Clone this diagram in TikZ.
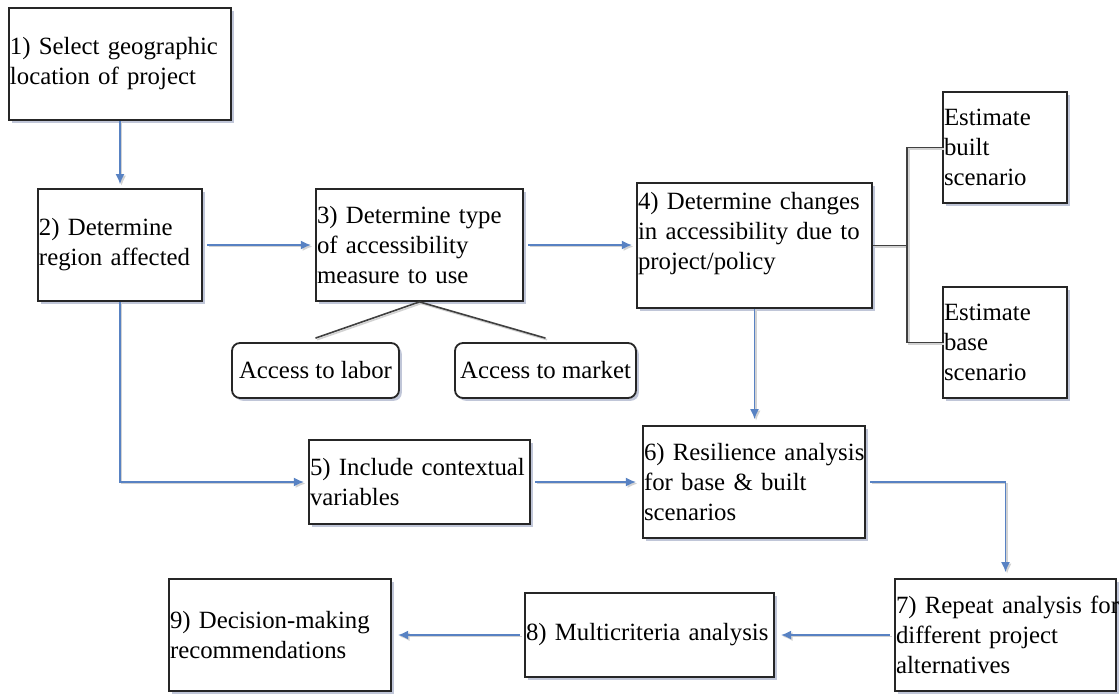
\documentclass[tikz,border=0pt]{standalone}
\usepackage{fontspec}
\setmainfont{Liberation Serif}
\usetikzlibrary{shadows,arrows.meta}
\definecolor{flowblue}{RGB}{88,130,195}
\definecolor{shadowgray}{RGB}{150,160,190}
\newcommand\boxfont{\fontsize{12.4}{15}\selectfont}
\tikzset{
  stepbox/.style={draw=black!85, line width=0.9pt, fill=white, align=left,
    inner xsep=0.6pt, inner ysep=0pt, font=\boxfont,
    drop shadow={shadow xshift=1.4pt, shadow yshift=-1.4pt, fill=shadowgray, opacity=0.6}},
  choicebox/.style={stepbox, rounded corners=4pt, align=center},
  flow/.style={draw=flowblue, line width=0.75pt, >={Latex[length=5pt,width=4.5pt]}, ->,
    preaction={draw=gray!35, line width=0.8pt, transform canvas={xshift=0.8pt, yshift=-0.8pt}}},
  fork/.style={draw=black!75, line width=0.8pt,
    preaction={draw=gray!35, line width=0.8pt, transform canvas={xshift=0.8pt, yshift=-0.8pt}}}
}
\begin{document}
\begin{tikzpicture}[x=0.5pt, y=-0.5pt]
\useasboundingbox (0,0) rectangle (1119,694);
% main steps
\node[stepbox, text width=110pt, minimum height=56pt] (select) at (120,64) {1) Select geographic\\location of project};
\node[stepbox, text width=81pt, minimum height=56pt] (region) at (120,245) {2) Determine\\region affected};
\node[stepbox, text width=102.5pt, minimum height=56pt] (measure) at (419.5,245) {3) Determine type\\of accessibility\\measure to use};
\node[stepbox, text width=116.5pt, minimum height=62.5pt] (changes) at (754.5,245.5) {4) Determine changes\\in accessibility due to\\project/policy\\\mbox{}};
\node[stepbox, text width=61pt, minimum height=55.5pt] (built) at (1005,147.5) {Estimate\\built\\scenario};
\node[stepbox, text width=61pt, minimum height=55.5pt] (base) at (1005,342.5) {Estimate\\base\\scenario};
\node[choicebox, minimum width=83.5pt, minimum height=27.5pt] (labor) at (315.5,370.5) {Access to labor};
\node[choicebox, minimum width=90.5pt, minimum height=27.5pt] (market) at (545.5,370.5) {Access to market};
\node[stepbox, text width=109.5pt, minimum height=42pt] (context) at (419.5,482) {5) Include contextual\\variables};
\node[stepbox, text width=110pt, minimum height=56pt] (resilience) at (754,482) {\mbox{6) Resilience analysis}\\for base \& built\\scenarios};
\node[stepbox, text width=109.5pt, minimum height=56pt] (repeat) at (1005.5,635) {\mbox{7) Repeat analysis for}\\different project\\alternatives};
\node[stepbox, text width=123.5pt, minimum height=42pt] (multi) at (649.5,635) {8) Multicriteria analysis};
\node[stepbox, text width=110pt, minimum height=56pt] (decision) at (280,635) {9) Decision-making\\recommendations};
% connectors
\draw[flow, shorten >=2pt] (select) -- (region);
\draw[flow, shorten <=2pt, shorten >=2pt] (region) -- (measure);
\draw[flow, shorten <=2pt, shorten >=2pt] (measure.east) -- (measure.east -| changes.west);
\draw[fork] (measure.south) -- ([yshift=2pt]labor.north);
\draw[fork] (measure.south) -- ([yshift=2pt]market.north);
\draw[fork] (changes.east) -- ++(34,0) coordinate (split);
\draw[fork] (built.west) -| (split) |- (base.west);
\draw[flow, shorten >=3pt] (changes.south) -- (changes.south |- resilience.north);
\draw[flow, shorten >=2pt] (region.south) |- (context.west);
\draw[flow, shorten <=2pt, shorten >=3pt] (context) -- (resilience);
\draw[flow, shorten <=2pt, shorten >=3pt] (resilience.east) -| (repeat.north);
\draw[flow, shorten <=2pt, shorten >=3pt] (repeat) -- (multi);
\draw[flow, shorten <=2pt, shorten >=3pt] (multi) -- (decision);
\end{tikzpicture}
\end{document}
